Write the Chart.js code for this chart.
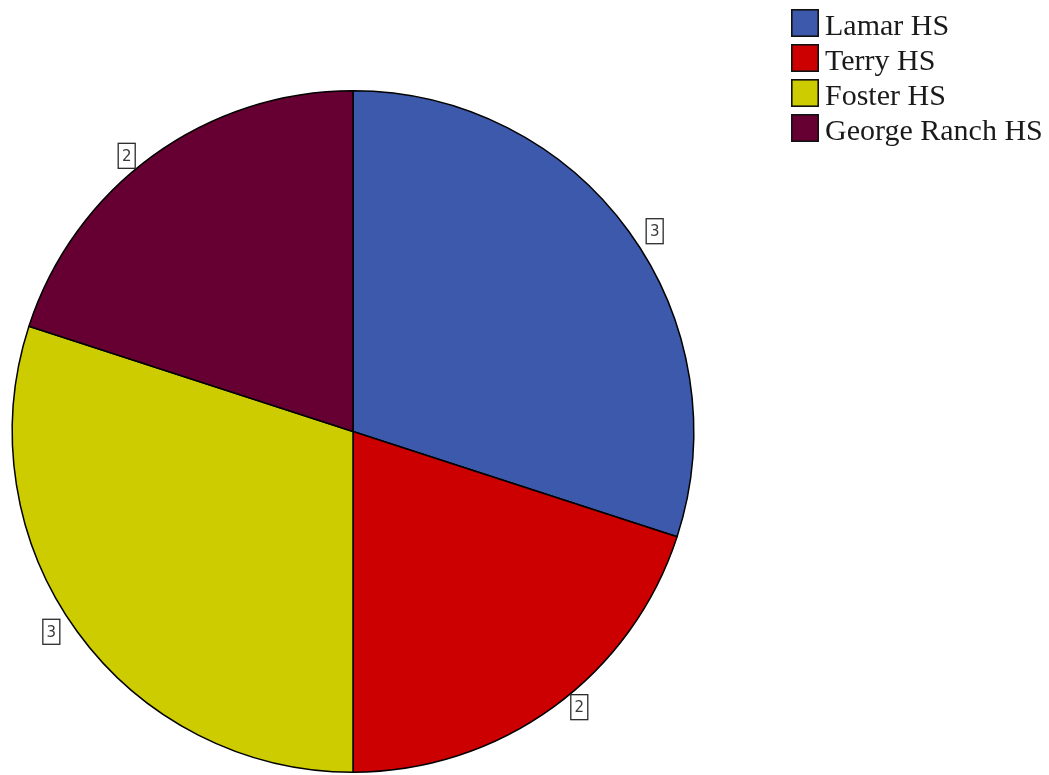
<!DOCTYPE html>
<html>
<head>
<meta charset="utf-8">
<script src="https://cdn.jsdelivr.net/npm/chart.js@4.4.0/dist/chart.umd.min.js"></script>
<style>
  html, body { margin: 0; padding: 0; background: #fff; }
  #wrap { width: 1049px; height: 775px; }
</style>
</head>
<body>
<div id="wrap"><canvas id="grafico_pizza"></canvas></div>
<script>
// --=| dados do grafico
let escolas = ["Lamar HS", "Terry HS", "Foster HS", "George Ranch HS"];
let contagens = [3, 2, 3, 2];
let cores = ["#3d59ac", "#cc0000", "#cccc00", "#660033"];

// rotulos em caixinha, encostados na borda da fatia (empurrados pro lado de fora)
const rotulosPlugin = {
  id: "rotulos",
  afterDatasetsDraw(chart) {
    const ctx = chart.ctx;
    const arcos = chart.getDatasetMeta(0).data;
    ctx.save();
    ctx.font = "15px 'DejaVu Sans'";
    ctx.textAlign = "center";
    ctx.textBaseline = "middle";
    arcos.forEach((arco, i) => {
      const meio = (arco.startAngle + arco.endAngle) / 2;
      const lado = Math.cos(meio) >= 0 ? 1 : -1;
      const x = arco.x + Math.cos(meio) * arco.outerRadius + lado * 26;
      const y = arco.y + Math.sin(meio) * arco.outerRadius;
      const w = 17, h = 25;
      ctx.fillStyle = "#ffffff";
      ctx.fillRect(x - w / 2, y - h / 2, w, h);
      ctx.strokeStyle = "#2a2a2a";
      ctx.lineWidth = 1.3;
      ctx.strokeRect(x - w / 2, y - h / 2, w, h);
      ctx.fillStyle = "#3a3a3a";
      ctx.fillText(String(chart.data.datasets[0].data[i]), x, y + 1);
    });
    ctx.restore();
  },
};

// legenda desenhada a mao, canto superior direito
const legendaPlugin = {
  id: "legenda",
  afterDraw(chart) {
    const ctx = chart.ctx;
    ctx.save();
    ctx.font = "30px 'Liberation Serif'";
    ctx.textAlign = "left";
    ctx.textBaseline = "alphabetic";
    chart.data.labels.forEach((nome, i) => {
      const topo = 9 + i * 35;
      ctx.fillStyle = chart.data.datasets[0].backgroundColor[i];
      ctx.fillRect(791, topo, 28, 28);
      ctx.strokeStyle = "#111";
      ctx.lineWidth = 1.6;
      ctx.strokeRect(791.8, topo + 0.8, 26.4, 26.4);
      ctx.fillStyle = "#1a1a1a";
      ctx.fillText(nome, 825, topo + 26);
    });
    ctx.restore();
  },
};

const grafico = new Chart(document.getElementById("grafico_pizza"), {
  type: "pie",
  data: {
    labels: escolas,
    datasets: [
      {
        data: contagens,
        backgroundColor: cores,
        borderColor: "#000000",
        borderWidth: 1.5,
        borderAlign: "center",
      },
    ],
  },
  options: {
    responsive: true,
    maintainAspectRatio: false,
    animation: false,
    layout: {
      padding: { left: 11, top: 90, right: 354, bottom: 2 },
    },
    plugins: {
      legend: { display: false },
      tooltip: { enabled: false },
    },
  },
  plugins: [rotulosPlugin, legendaPlugin],
});
</script>
</body>
</html>
